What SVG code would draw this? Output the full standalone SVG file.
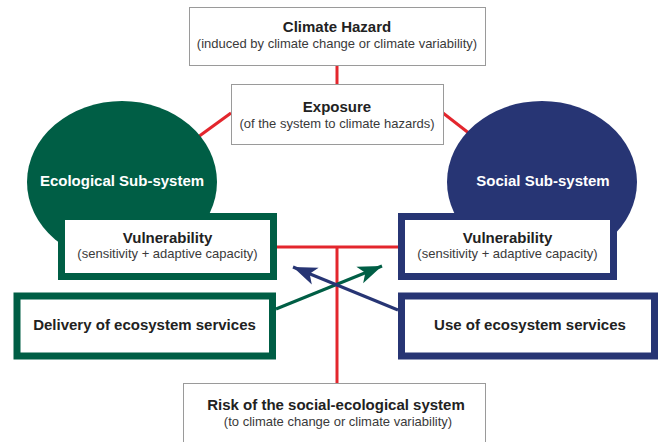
<svg xmlns="http://www.w3.org/2000/svg" width="660" height="442" viewBox="0 0 660 442">
<defs>
<style>
text{font-family:"Liberation Sans",Arial,sans-serif;text-anchor:middle;fill:#222}
.t{font-size:15px;font-weight:bold}
.s{font-size:13px;fill:#3a3a3a}
.w{fill:#fff}
.plain{fill:#fff;stroke:#9a9a9a;stroke-width:1}
.gbox{fill:#fff;stroke:#005e45;stroke-width:7}
.bbox{fill:#fff;stroke:#273574;stroke-width:7}
.red{stroke:#e3262d;stroke-width:3;fill:none}
</style>
<marker id="ag" markerUnits="userSpaceOnUse" markerWidth="30" markerHeight="24" viewBox="-26 -12 30 24" refX="0" refY="0" orient="auto">
<path d="M0,0 L-24,-9 L-18,0 L-24,9 Z" fill="#005e45"/>
</marker>
<marker id="ab" markerUnits="userSpaceOnUse" markerWidth="30" markerHeight="24" viewBox="-26 -12 30 24" refX="0" refY="0" orient="auto">
<path d="M0,0 L-24,-9 L-18,0 L-24,9 Z" fill="#273574"/>
</marker>
</defs>
<rect width="660" height="442" fill="#fff"/>
<g id="connectors-red">
<line class="red" x1="337" y1="65" x2="337" y2="84"/>
<line class="red" x1="231" y1="113" x2="198" y2="137"/>
<line class="red" x1="443" y1="113" x2="470" y2="134"/>
<line class="red" x1="277" y1="247" x2="398" y2="247"/>
<line class="red" x1="337" y1="247" x2="337" y2="383"/>
</g>
<g id="hazard">
<rect class="plain" x="189.5" y="7.5" width="296" height="58"/>
<text class="t" x="337" y="32">Climate Hazard</text>
<text class="s" x="337" y="48">(induced by climate change or climate variability)</text>
</g>
<g id="exposure">
<rect class="plain" x="231.5" y="84.5" width="212" height="60"/>
<text class="t" x="337" y="112">Exposure</text>
<text class="s" x="337" y="128">(of the system to climate hazards)</text>
</g>
<g id="ecological">
<ellipse cx="122" cy="182" rx="95" ry="81" fill="#005e45"/>
<text class="t w" x="122" y="186">Ecological Sub-system</text>
</g>
<g id="social">
<ellipse cx="542" cy="182" rx="95" ry="81" fill="#273574"/>
<text class="t w" x="543" y="186">Social Sub-system</text>
</g>
<g id="vuln-eco">
<rect class="gbox" x="61.5" y="216.5" width="212" height="60"/>
<text class="t" x="167.5" y="243">Vulnerability</text>
<text class="s" x="167.5" y="258">(sensitivity + adaptive capacity)</text>
</g>
<g id="vuln-soc">
<rect class="bbox" x="401.5" y="216.5" width="212" height="60"/>
<text class="t" x="507.5" y="243">Vulnerability</text>
<text class="s" x="507.5" y="258">(sensitivity + adaptive capacity)</text>
</g>
<g id="delivery">
<rect class="gbox" x="17" y="296" width="255.5" height="60"/>
<text class="t" x="144.5" y="330">Delivery of ecosystem services</text>
</g>
<g id="use">
<rect class="bbox" x="401.5" y="296" width="253" height="60"/>
<text class="t" x="530" y="330">Use of ecosystem services</text>
</g>
<g id="risk">
<rect class="plain" x="183.5" y="383.5" width="302" height="70"/>
<text class="t" x="336" y="410">Risk of the social-ecological system</text>
<text class="s" x="338" y="426">(to climate change or climate variability)</text>
</g>
<g id="connectors-arrows">
<line x1="276" y1="309" x2="382" y2="266" stroke="#005e45" stroke-width="3" marker-end="url(#ag)"/>
<line x1="398" y1="310" x2="293" y2="267" stroke="#273574" stroke-width="3" marker-end="url(#ab)"/>
</g>
</svg>
